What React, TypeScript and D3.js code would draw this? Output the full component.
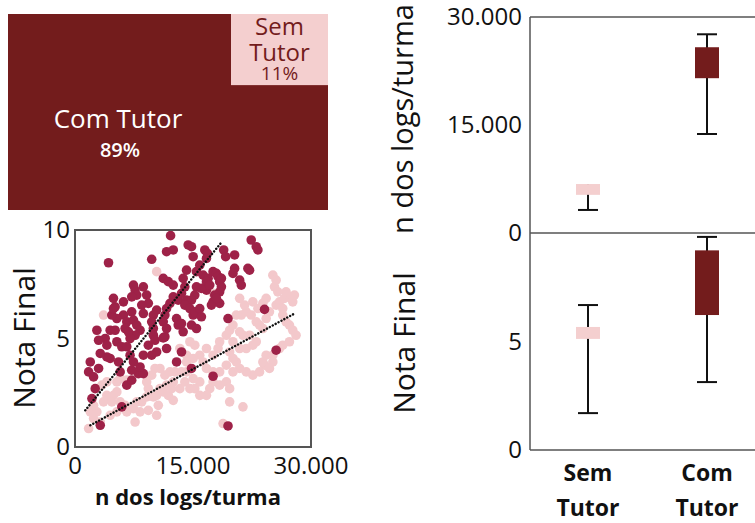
import React from 'react';
import * as d3 from 'd3';

// ---------- data ----------
const treeCategories = ['Com Tutor', 'Sem Tutor'];
const treeShares = [89, 11];

const boxGroups = ['Sem Tutor', 'Com Tutor'];
const logsWhiskerLow = [3200, 13750];
const logsQ1 = [5300, 21500];
const logsQ3 = [6800, 25800];
const logsWhiskerHigh = [6800, 27600];
const notaWhiskerLow = [1.7, 3.13];
const notaQ1 = [5.12, 6.22];
const notaQ3 = [5.67, 9.2];
const notaWhiskerHigh = [6.68, 9.82];

const logsTicks = [0, 15000, 30000];
const notaTicks = [0, 5, 10];

// [n dos logs/turma, nota final]
const comTutorPoints: [number, number][] = [
  [12150, 9.74], [4260, 8.49], [9750, 8.65], [11640, 9.0], [12490, 9.08], [14390, 9.31], [14810, 9.23],
  [16500, 9.08], [16830, 8.92], [16710, 8.69], [15020, 8.77], [15860, 8.38], [15440, 8.08], [14180, 8.15],
  [18900, 9.08], [19150, 8.77], [20290, 8.85], [20290, 8.23], [20080, 8.0], [22400, 9.54], [23040, 9.23],
  [23250, 9.08], [21980, 8.23], [22190, 8.15], [20930, 7.69], [21140, 7.46], [11220, 7.77], [11860, 7.62],
  [12490, 7.46], [13750, 7.77], [13960, 7.38], [13540, 7.08], [13120, 6.77], [12490, 6.92], [12070, 6.62],
  [11640, 6.38], [11430, 6.08], [10380, 6.31], [9960, 6.08], [8690, 7.38], [7430, 7.46], [7640, 7.23],
  [7850, 7.0], [9110, 7.0], [9320, 6.62], [8480, 6.54], [8690, 6.15], [6160, 6.69], [7210, 6.92],
  [4890, 6.85], [5100, 6.46], [6160, 6.08], [6580, 5.77], [6370, 5.46], [7210, 6.23], [7430, 5.85],
  [7850, 5.62], [8270, 5.38], [9750, 5.77], [9960, 5.46], [9960, 5.15], [10170, 4.92], [11220, 5.77],
  [11640, 5.46], [11430, 5.08], [12910, 5.92], [13120, 5.62], [13540, 5.69], [13750, 5.31], [15020, 6.08],
  [14810, 5.62], [15440, 5.46],
  [16290, 7.92], [16920, 7.77], [17550, 8.08], [17970, 8.0], [18180, 7.85], [18390, 7.62], [18610, 7.38],
  [18390, 7.15], [17760, 7.0], [17550, 6.69], [18390, 6.62], [17340, 6.54], [16710, 7.23], [16070, 7.31],
  [15440, 7.38], [15230, 7.0], [14810, 6.77], [14180, 6.77], [13960, 6.54], [14600, 6.38], [15230, 6.23],
  [15860, 6.38], [16070, 6.0], [16710, 7.62], [17130, 7.46], [18610, 7.77], [17970, 6.85],
  [19450, 5.92], [24090, 6.34], [25570, 4.46], [17550, 3.26], [19450, 0.97],
  [1730, 3.46], [1940, 3.92], [2360, 3.23], [3000, 3.62], [2570, 2.69], [2150, 2.23], [3210, 1.0],
  [5950, 1.85], [6580, 2.85], [7210, 3.08], [8060, 3.38], [8690, 3.38], [8270, 3.69], [7210, 3.54],
  [5740, 3.46], [5530, 3.92], [4470, 4.08], [4050, 4.15], [3210, 4.31], [3840, 5.0], [3000, 4.92],
  [2780, 5.38], [4470, 5.38], [5100, 5.38], [4050, 4.69], [5320, 4.85], [5950, 4.62], [6580, 4.62],
  [7000, 4.23], [7430, 3.92], [7640, 5.15], [7000, 5.0], [6790, 5.31], [5320, 5.92], [4680, 6.08],
  [4890, 6.38], [13540, 4.38], [14810, 3.62], [12910, 3.92], [10380, 4.38], [9750, 4.23], [8690, 4.23],
  [9320, 4.69], [11640, 4.54], [11220, 5.03],
];

const semTutorPoints: [number, number][] = [
  [1730, 0.85], [2360, 1.31], [3210, 1.15], [1940, 1.62], [2780, 1.62], [2360, 1.92], [3630, 2.08],
  [4050, 2.38], [4890, 2.38], [5320, 2.54], [4680, 2.08], [5740, 2.08], [6580, 1.62], [6370, 1.92],
  [7640, 1.15], [7430, 1.77], [7850, 2.08], [8480, 2.08], [9110, 2.31], [9960, 2.31], [10380, 2.38],
  [10800, 2.69], [11220, 2.54], [11860, 2.38], [11640, 2.85], [12280, 2.69], [12490, 2.15], [10380, 1.46],
  [10590, 1.92], [9320, 1.69], [8270, 1.62], [3630, 6.08], [3420, 2.85], [4050, 3.0], [5320, 3.0],
  [5740, 3.15], [6580, 3.08], [10380, 8.08], [13330, 4.54], [14180, 4.23], [14600, 4.85], [15230, 4.69],
  [15860, 4.23], [16290, 3.92], [16710, 3.62], [17550, 3.0], [15860, 3.0], [15020, 3.15], [14180, 3.46],
  [13540, 3.46], [12700, 3.46], [12070, 3.46], [11430, 3.31], [10800, 3.62], [10170, 3.62], [13960, 3.0],
  [14600, 2.69], [15230, 2.69], [17550, 4.23], [18180, 4.54], [18390, 4.85], [19240, 5.15], [19660, 5.38],
  [20080, 5.62], [20500, 6.08], [21140, 6.08], [21770, 6.23], [22400, 6.08], [23040, 5.77], [23460, 5.62],
  [23880, 5.46], [24300, 5.92], [24720, 6.23], [25570, 6.54], [25990, 6.69], [26620, 6.85], [27260, 6.92],
  [27680, 6.69], [27890, 7.0], [26830, 7.15], [25150, 7.92], [25570, 7.69], [25360, 7.38], [25780, 7.15],
  [26410, 6.38], [26410, 6.08], [26830, 5.77], [27260, 5.62], [27680, 5.38], [28100, 5.15], [27260, 4.85],
  [26410, 4.69], [25990, 4.54], [25150, 4.23], [25150, 3.92], [24300, 4.23], [24090, 3.77], [23460, 3.46],
  [22610, 3.31], [21770, 3.46], [20930, 3.62], [20500, 3.92], [20080, 4.08], [19660, 4.38], [20930, 4.54],
  [21770, 4.54], [22610, 4.69], [23040, 4.85], [22190, 5.15], [21350, 5.15], [20930, 5.31], [20080, 4.85],
  [19240, 3.77], [20080, 3.46], [18390, 3.46], [19240, 3.0], [19660, 2.69], [18390, 2.85], [17550, 3.46],
  [19660, 2.08], [21350, 1.85], [18820, 1.08], [17130, 2.69], [16710, 2.38], [15860, 2.38], [20930, 6.85],
  [21560, 6.54], [22610, 6.69], [23250, 6.38], [23880, 6.62], [24300, 6.85], [23880, 3.92], [24720, 3.62],
  [17550, 7.08], [4470, 1.46], [5320, 1.62], [9320, 2.69], [9110, 3.0], [9750, 3.31], [14180, 3.92],
  [15020, 4.08], [16710, 4.54], [13330, 2.69], [12490, 3.0],
];

const comTrend: [number, number][] = [[1300, 1.69], [18500, 9.38]];
const semTrend: [number, number][] = [[1950, 1.0], [27900, 6.15]];

// ---------- styles ----------
const FONT = "'Open Sans', sans-serif";
const DARK = '#731c1c';
const LIGHT = '#f4cfcf';
const DOT_DARK = '#9e2248';
const DOT_LIGHT = '#f3c8cb';
const AXIS = '#555';

const ptLocale = d3.formatLocale({ decimal: ',', thousands: '.', grouping: [3], currency: ['R$', ''] });
const fmt = ptLocale.format(',');

export default function App() {
  // treemap
  const tm = { x0: 8, y0: 14, x1: 328, y1: 210 };
  const total = d3.sum(treeShares);
  const area = (tm.x1 - tm.x0) * (tm.y1 - tm.y0);
  const semW = 97;
  const semH = (treeShares[1] / total) * area / semW;
  const semRect = { x: tm.x1 - semW, y: tm.y0, w: semW, h: semH };

  // scatter
  const sx = d3.scaleLinear().domain([0, 30000]).range([75, 311]);
  const sy = d3.scaleLinear().domain([0, 10]).range([447, 230]);
  const line = d3.line<[number, number]>().x((d) => sx(d[0])).y((d) => sy(d[1]));

  // box plots
  const bx = d3.scalePoint<string>().domain(boxGroups).range([588, 707]);
  const yTop = d3.scaleLinear().domain([0, 30000]).range([233, 17]);
  const yBot = d3.scaleLinear().domain([0, 10]).range([450, 233]);
  const frameLeft = 530;
  const frameRight = 755;
  const boxW = 24;
  const capW = 20;

  const renderBox = (
    y: d3.ScaleLinear<number, number>,
    lo: number[], q1: number[], q3: number[], hi: number[], key: string
  ) =>
    boxGroups.map((g, i) => {
      const cx = bx(g) as number;
      const fill = i === 0 ? LIGHT : DARK;
      return (
        <g key={key + g}>
          <line x1={cx} x2={cx} y1={y(lo[i])} y2={y(hi[i])} stroke="#111" strokeWidth={2} />
          <line x1={cx - capW / 2} x2={cx + capW / 2} y1={y(lo[i])} y2={y(lo[i])} stroke="#111" strokeWidth={2} />
          {hi[i] > q3[i] && (
            <line x1={cx - capW / 2} x2={cx + capW / 2} y1={y(hi[i])} y2={y(hi[i])} stroke="#111" strokeWidth={2} />
          )}
          <rect x={cx - boxW / 2} y={y(q3[i])} width={boxW} height={y(q1[i]) - y(q3[i])} fill={fill} />
        </g>
      );
    });

  return (
    <svg width={755} height={523} style={{ position: 'absolute', left: 0, top: 0, background: '#fff' }} fontFamily={FONT}>
      {/* Treemap */}
      <rect x={tm.x0} y={tm.y0} width={tm.x1 - tm.x0} height={tm.y1 - tm.y0} fill={DARK} />
      <rect x={semRect.x} y={semRect.y} width={semRect.w} height={semRect.h} fill={LIGHT} />
      <text x={118} y={128} fill="#fff" fontSize={26} fontWeight={500} textAnchor="middle">{treeCategories[0]}</text>
      <text x={120} y={157} fill="#fff" fontSize={20} fontWeight={600} textAnchor="middle">{treeShares[0]}%</text>
      {treeCategories[1].split(' ').map((w, i) => (
        <text key={w} x={semRect.x + semRect.w / 2} y={35 + i * 26} fill={DARK} fontSize={24} fontWeight={500} textAnchor="middle">{w}</text>
      ))}
      <text x={semRect.x + semRect.w / 2} y={80} fill={DARK} fontSize={19} fontWeight={500} textAnchor="middle">{treeShares[1]}%</text>

      {/* Scatter */}
      {semTutorPoints.map((d, i) => (
        <circle key={'s' + i} cx={sx(d[0])} cy={sy(d[1])} r={4.8} fill={DOT_LIGHT} />
      ))}
      {comTutorPoints.map((d, i) => (
        <circle key={'c' + i} cx={sx(d[0])} cy={sy(d[1])} r={4.8} fill={DOT_DARK} />
      ))}
      <path d={line(comTrend) || ''} stroke="#111" strokeWidth={2.4} strokeDasharray="0.1,3.2" strokeLinecap="round" fill="none" />
      <path d={line(semTrend) || ''} stroke="#111" strokeWidth={2.4} strokeDasharray="0.1,3.2" strokeLinecap="round" fill="none" />
      <rect x={sx(0)} y={sy(10)} width={sx(30000) - sx(0)} height={sy(0) - sy(10)} fill="none" stroke={AXIS} strokeWidth={2} />
      {notaTicks.map((t) => (
        <text key={'sy' + t} x={70} y={sy(t)} dy="0.35em" fontSize={24} textAnchor="end" fill="#111">{t}</text>
      ))}
      {logsTicks.map((t) => (
        <text key={'sx' + t} x={sx(t)} y={474} fontSize={24} textAnchor="middle" fill="#111">{fmt(t)}</text>
      ))}
      <text transform="translate(35,338) rotate(-90)" fontSize={30} textAnchor="middle" fill="#111">Nota Final</text>
      <text x={188} y={505} fontSize={22} fontWeight={700} textAnchor="middle" fill="#111">n dos logs/turma</text>

      {/* Box plots */}
      {renderBox(yTop, logsWhiskerLow, logsQ1, logsQ3, logsWhiskerHigh, 'top')}
      {renderBox(yBot, notaWhiskerLow, notaQ1, notaQ3, notaWhiskerHigh, 'bot')}
      <line x1={frameLeft} x2={frameRight} y1={yTop(30000)} y2={yTop(30000)} stroke={AXIS} strokeWidth={1.5} />
      <line x1={frameLeft} x2={frameRight} y1={yTop(0)} y2={yTop(0)} stroke={AXIS} strokeWidth={1.5} />
      <line x1={frameLeft} x2={frameRight} y1={yBot(0)} y2={yBot(0)} stroke={AXIS} strokeWidth={1.5} />
      <line x1={frameLeft} x2={frameLeft} y1={yTop(30000)} y2={yBot(0)} stroke={AXIS} strokeWidth={1.5} />
      {logsTicks.map((t) => (
        <text key={'ty' + t} x={522} y={yTop(t)} dy="0.35em" fontSize={24} textAnchor="end" fill="#111">{fmt(t)}</text>
      ))}
      {notaTicks.filter((t) => t < 10).map((t) => (
        <text key={'by' + t} x={522} y={yBot(t)} dy="0.35em" fontSize={24} textAnchor="end" fill="#111">{t}</text>
      ))}
      <text transform="translate(413,119) rotate(-90)" fontSize={29} textAnchor="middle" fill="#111">n dos logs/turma</text>
      <text transform="translate(415,343) rotate(-90)" fontSize={30} textAnchor="middle" fill="#111">Nota Final</text>
      {boxGroups.map((g) =>
        g.split(' ').map((w, i) => (
          <text key={g + w} x={bx(g) as number} y={481 + i * 35} fontSize={23} fontWeight={700} textAnchor="middle" fill="#111">{w}</text>
        ))
      )}
    </svg>
  );
}
